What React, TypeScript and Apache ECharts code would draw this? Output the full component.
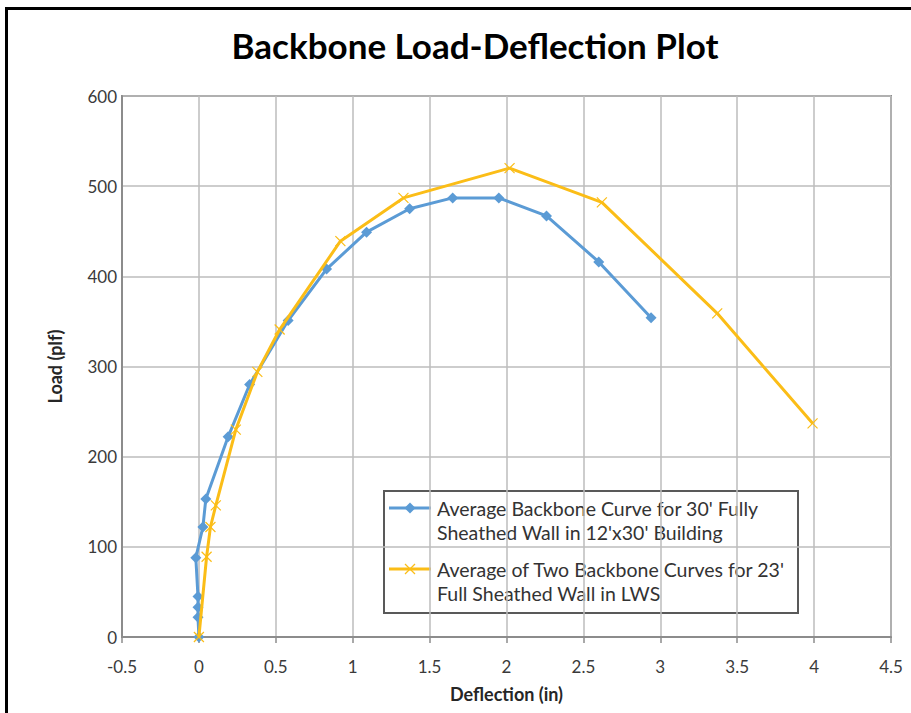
import React, { useEffect, useRef } from "react";
import * as echarts from "echarts";

const titleText = "Backbone Load-Deflection Plot";
const xAxisName = "Deflection (in)";
const yAxisName = "Load (plf)";

const blueName = "Average Backbone Curve for 30' Fully Sheathed Wall in 12'x30' Building";
const blueLegendLines = ["Average Backbone Curve for 30' Fully", "Sheathed Wall in 12'x30' Building"];
const blueX = [0, -0.006, -0.006, -0.006, -0.02, 0.026, 0.045, 0.19, 0.33, 0.58, 0.83, 1.09, 1.37, 1.65, 1.95, 2.26, 2.6, 2.94];
const blueY = [0, 22, 33, 45, 88, 122, 153, 222, 280, 351, 408, 449, 475, 487, 487, 467, 416, 354];

const orangeName = "Average of Two Backbone Curves for 23' Full Sheathed Wall in LWS";
const orangeLegendLines = ["Average of Two Backbone Curves for 23'", "Full Sheathed Wall in LWS"];
const orangeX = [0, 0.05, 0.075, 0.11, 0.24, 0.38, 0.525, 0.92, 1.33, 2.02, 2.62, 3.37, 3.99];
const orangeY = [0, 89, 122, 146, 230, 294, 341, 439, 487, 520, 482, 359, 237];

const xMin = -0.5;
const xMax = 4.5;
const xStep = 0.5;
const yMin = 0;
const yMax = 600;
const yStep = 100;

const BLUE = "#5b9bd5";
const ORANGE = "#fbbd17";
const FONT = "Lato, 'Open Sans', sans-serif";
const CROSS = "path://M0,0L10,10M10,0L0,10";

export default function App() {
  const ref = useRef<HTMLDivElement>(null);

  useEffect(() => {
    if (!ref.current) return;
    const chart = echarts.init(ref.current, undefined, { renderer: "svg" });

    const lx = 383;
    const ly = 490;
    const lw = 414;
    const lh = 122;

    chart.setOption({
      animation: false,
      backgroundColor: "#ffffff",
      textStyle: { fontFamily: FONT },
      title: {
        text: titleText,
        left: 470,
        top: 22,
        textAlign: "center",
        textStyle: { fontFamily: FONT, fontSize: 35, fontWeight: "bold", color: "#000000" },
      },
      grid: {
        left: 122,
        right: 20,
        top: 96,
        bottom: 76,
        show: true,
        borderColor: "#8c8c8c",
        borderWidth: 2,
        backgroundColor: "transparent",
      },
      xAxis: {
        type: "value",
        min: xMin,
        max: xMax,
        interval: xStep,
        name: xAxisName,
        nameLocation: "middle",
        nameGap: 48,
        nameTextStyle: { fontFamily: FONT, fontSize: 18, fontWeight: "bold", color: "#262626" },
        axisLine: { show: true, onZero: false, lineStyle: { color: "#8c8c8c", width: 2 } },
        axisTick: { show: true, length: 6, lineStyle: { color: "#8c8c8c", width: 1.5 } },
        axisLabel: { fontFamily: FONT, fontSize: 17, color: "#3a3a3a", margin: 21 },
        splitLine: { show: true, lineStyle: { color: "#bdbdbd", width: 1.5 } },
      },
      yAxis: {
        type: "value",
        min: yMin,
        max: yMax,
        interval: yStep,
        name: yAxisName,
        nameLocation: "middle",
        nameGap: 58,
        nameRotate: 90,
        nameTextStyle: { fontFamily: FONT, fontSize: 18, fontWeight: "bold", color: "#262626" },
        axisLine: { show: true, onZero: false, lineStyle: { color: "#8c8c8c", width: 2 } },
        axisTick: { show: false },
        axisLabel: { fontFamily: FONT, fontSize: 17, color: "#3a3a3a", margin: 5 },
        splitLine: { show: true, lineStyle: { color: "#bdbdbd", width: 1.5 } },
      },
      series: [
        {
          name: blueName,
          type: "line",
          data: blueX.map((x, i) => [x, blueY[i]]),
          symbol: "diamond",
          symbolSize: 11,
          showAllSymbol: true,
          lineStyle: { color: BLUE, width: 3 },
          itemStyle: { color: BLUE },
          z: 3,
        },
        {
          name: orangeName,
          type: "line",
          data: orangeX.map((x, i) => [x, orangeY[i]]),
          symbol: CROSS,
          symbolSize: 10,
          showAllSymbol: true,
          lineStyle: { color: ORANGE, width: 3 },
          itemStyle: { color: ORANGE, borderColor: ORANGE, borderWidth: 1.2 },
          z: 4,
        },
      ],
      graphic: [
        {
          type: "rect",
          shape: { x: 6.5, y: 8.5, width: 960, height: 760 },
          style: { fill: "none", stroke: "#000000", lineWidth: 3 },
          silent: true,
        },
        {
          type: "group",
          left: lx,
          top: ly,
          children: [
            {
              type: "rect",
              shape: { x: 0, y: 0, width: lw, height: lh },
              style: { fill: "#ffffff", stroke: "#595959", lineWidth: 2 },
            },
            {
              type: "line",
              shape: { x1: 5, y1: 17, x2: 47, y2: 17 },
              style: { stroke: BLUE, lineWidth: 3 },
            },
            {
              type: "polygon",
              shape: { points: [[26, 11.5], [31.5, 17], [26, 22.5], [20.5, 17]] },
              style: { fill: BLUE },
            },
            {
              type: "text",
              x: 53,
              y: 17,
              style: {
                text: blueLegendLines.join("\n"),
                fontFamily: FONT,
                fontSize: 19.5,
                lineHeight: 24,
                fill: "#333333",
                verticalAlign: "top",
                y: -12,
              },
            },
            {
              type: "line",
              shape: { x1: 5, y1: 78, x2: 47, y2: 78 },
              style: { stroke: ORANGE, lineWidth: 3 },
            },
            {
              type: "line",
              shape: { x1: 21, y1: 73, x2: 31, y2: 83 },
              style: { stroke: ORANGE, lineWidth: 1.2 },
            },
            {
              type: "line",
              shape: { x1: 31, y1: 73, x2: 21, y2: 83 },
              style: { stroke: ORANGE, lineWidth: 1.2 },
            },
            {
              type: "text",
              x: 53,
              y: 78,
              style: {
                text: orangeLegendLines.join("\n"),
                fontFamily: FONT,
                fontSize: 19.5,
                lineHeight: 24,
                fill: "#333333",
                verticalAlign: "top",
                y: -12,
              },
            },
          ],
        },
      ],
    });

    return () => chart.dispose();
  }, []);

  return (
    <div
      ref={ref}
      style={{ position: "absolute", left: 0, top: 0, width: 911, height: 713 }}
    />
  );
}
